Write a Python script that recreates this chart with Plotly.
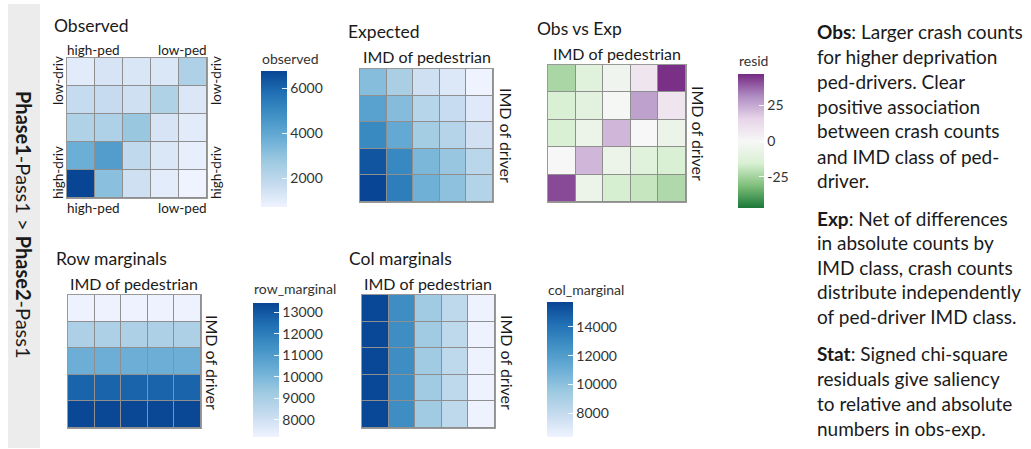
import plotly.graph_objects as go

# ---------------- data ----------------
ped_classes = [1, 2, 3, 4, 5]      # high-ped -> low-ped
driv_classes = [1, 2, 3, 4, 5]     # low-driv (top) -> high-driv (bottom)

observed = [
    [1040, 1320, 1260, 1230, 2290],
    [1740, 1730, 1500, 2280, 1200],
    [2280, 2320, 2830, 1320, 1040],
    [3735, 4340, 1860, 1230, 890],
    [6755, 3130, 1500, 1010, 715],
]
expected = [
    [2157, 1770, 1300, 1134, 899],
    [2648, 2173, 1596, 1392, 1103],
    [3065, 2515, 1847, 1611, 1277],
    [3773, 3096, 2273, 1983, 1572],
    [3957, 3247, 2385, 2080, 1649],
]
resid = [
    [-24, -12, -4, 8, 46],
    [-15, -11, -1, 27, 8],
    [-15, -6, 22, 0, -6],
    [0, 22, -6, -12, -15],
    [42, -6, -16, -19, -23],
]
row_marginal = [
    [7250] * 5,
    [8900] * 5,
    [10300] * 5,
    [12680] * 5,
    [13350] * 5,
]
col_marginal = [
    [15650, 12800, 9400, 8200, 6400],
] * 5

obs_ticks = [2000, 4000, 6000]
resid_ticks = [-25, 0, 25]
resid_ticktext = ["-25", "0", "25"]
row_ticks = [8000, 9000, 10000, 11000, 12000, 13000]
col_ticks = [8000, 10000, 12000, 14000]

BLUES = ["#EFF3FF", "#C6DBEF", "#9ECAE1", "#6BAED6", "#4292C6", "#2171B5", "#084594"]
PRGN = ["#1B7837", "#7FBF7B", "#D9F0D3", "#F7F7F7", "#E7D4E8", "#AF8DC3", "#762A83"]


def scale(cols):
    n = len(cols) - 1
    return [[i / n, c] for i, c in enumerate(cols)]


W, H = 1031, 449
FONT = "Lato"
TXT = "#1a1a1a"
CB_THICK = 26


def fx(x):
    return x / W


def fy(y):
    return 1 - y / H


fig = go.Figure()
shapes = [dict(type="rect", xref="paper", yref="paper", x0=fx(8), x1=fx(40),
               y0=fy(448), y1=fy(4), fillcolor="#ececec", line=dict(width=0),
               layer="below")]

panels = [
    (observed, BLUES, 710, 6760, 67, 207, 58, 198,
     dict(x=261, y=71, len=136, ticks=obs_ticks, text=None)),
    (expected, BLUES, None, None, 360, 493, 69, 202, None),
    (resid, PRGN, -47, 47, 548, 686, 65, 202,
     dict(x=738, y=74, len=134, ticks=resid_ticks, text=resid_ticktext)),
    (row_marginal, BLUES, 7210, 13420, 68, 201, 295, 428,
     dict(x=253, y=303, len=134, ticks=row_ticks, text=None)),
    (col_marginal, BLUES, 6330, 15740, 362, 495, 295, 428,
     dict(x=547, y=302, len=135, ticks=col_ticks, text=None)),
]

layout_axes = {}
for i, (z, cs, zmin, zmax, x0, x1, y0, y1, cb) in enumerate(panels):
    n = "" if i == 0 else str(i + 1)
    kw = dict(
        z=z, x=ped_classes, y=driv_classes, colorscale=scale(cs),
        xgap=1, ygap=1, xaxis="x" + n, yaxis="y" + n, hoverinfo="z",
    )
    if zmin is not None:
        kw["zmin"] = zmin
        kw["zmax"] = zmax
    if cb is None:
        kw["showscale"] = False
    else:
        kw["showscale"] = True
        cbd = dict(
            x=fx(cb["x"]), xanchor="left", y=fy(cb["y"]), yanchor="top",
            len=cb["len"], lenmode="pixels", thickness=CB_THICK, thicknessmode="pixels",
            xpad=0, ypad=0, outlinewidth=0, title=dict(text=""),
            tickmode="array", tickvals=cb["ticks"], ticks="inside", ticklen=5,
            tickcolor="rgba(255,255,255,0.9)", tickwidth=1, tickformat="d",
            tickfont=dict(family=FONT, size=14, color="#333333"),
        )
        if cb["text"] is not None:
            cbd["ticktext"] = cb["text"]
        kw["colorbar"] = cbd
        # matching white tick marks on the left edge of the bar (ggplot style)
        for v in cb["ticks"]:
            ypx = cb["y"] + (zmax - v) / (zmax - zmin) * cb["len"]
            shapes.append(dict(type="line", xref="paper", yref="paper",
                               x0=fx(cb["x"]), x1=fx(cb["x"] + 5),
                               y0=fy(ypx), y1=fy(ypx),
                               line=dict(color="rgba(255,255,255,0.9)", width=1),
                               layer="above"))
    fig.add_trace(go.Heatmap(**kw))
    axcommon = dict(showgrid=False, zeroline=False, showticklabels=False, ticks="",
                    showline=True, linecolor="#999999", linewidth=1, mirror=True,
                    fixedrange=True)
    layout_axes["xaxis" + n] = dict(domain=[fx(x0), fx(x1)], range=[0.5, 5.5],
                                    anchor="y" + n, **axcommon)
    layout_axes["yaxis" + n] = dict(domain=[fy(y1), fy(y0)], range=[5.5, 0.5],
                                    anchor="x" + n, **axcommon)

annotations = []


def ann(text, x, y, size, xanchor="center", angle=0, color=TXT):
    annotations.append(dict(
        text=text, x=fx(x), y=fy(y), xref="paper", yref="paper",
        xanchor=xanchor, yanchor="middle", showarrow=False, textangle=angle,
        font=dict(family=FONT, size=size, color=color),
    ))


# panel titles
ann("Observed", 52, 25, 17.5, "left")
ann("Expected", 346, 32, 17.5, "left")
ann("Obs vs Exp", 535, 28, 17.5, "left")
ann("Row marginals", 54, 258, 17.5, "left")
ann("Col marginals", 347, 258, 17.5, "left")

# observed labels
for yy in (50, 208):
    ann("high-ped", 93, yy, 13.5)
    ann("low-ped", 182, yy, 13.5)
for xx in (58, 216):
    ann("low-driv", xx, 81, 13.5, angle=-90)
    ann("high-driv", xx, 173, 13.5, angle=-90)

# axis titles
ann("IMD of pedestrian", 427, 57, 16)
ann("IMD of pedestrian", 617, 53, 16)
ann("IMD of pedestrian", 134, 283, 16)
ann("IMD of pedestrian", 428, 283, 16)
ann("IMD of driver", 507, 135, 16, angle=90)
ann("IMD of driver", 699, 133, 16, angle=90)
ann("IMD of driver", 213, 362, 16, angle=90)
ann("IMD of driver", 508, 362, 16, angle=90)

# colorbar titles
ann("observed", 260, 58, 14, "left", color="#333333")
ann("resid", 737, 60, 14, "left", color="#333333")
ann("row_marginal", 252, 288, 14, "left", color="#333333")
ann("col_marginal", 546, 289, 14, "left", color="#333333")

# left strip text
ann("<b>Phase1</b>-Pass1 &gt; <b>Phase2</b>-Pass1", 24, 225, 20, angle=90)

# right-hand notes
notes = [
    ("<b>Obs</b>: Larger crash counts", 32),
    ("for higher deprivation", 57),
    ("ped-drivers. Clear", 81),
    ("positive association", 106),
    ("between crash counts", 131),
    ("and IMD class of ped-", 156),
    ("driver.", 181),
    ("<b>Exp</b>: Net of differences", 218),
    ("in absolute counts by", 242),
    ("IMD class, crash counts", 267),
    ("distribute independently", 291),
    ("of ped-driver IMD class.", 316),
    ("<b>Stat</b>: Signed chi-square", 353),
    ("residuals give saliency", 378),
    ("to relative and absolute", 403),
    ("numbers in obs-exp.", 428),
]
for t, yy in notes:
    ann(t, 815, yy, 19, "left")

fig.update_layout(
    width=W, height=H, margin=dict(l=0, r=0, t=0, b=0),
    paper_bgcolor="white", plot_bgcolor="#8f8f8f",
    annotations=annotations, shapes=shapes, showlegend=False,
    font=dict(family=FONT),
    **layout_axes,
)

fig.write_html(
    "out.html",
    config={"displayModeBar": False},
    post_script="document.body.style.margin='0';document.body.style.overflow='hidden';",
)
